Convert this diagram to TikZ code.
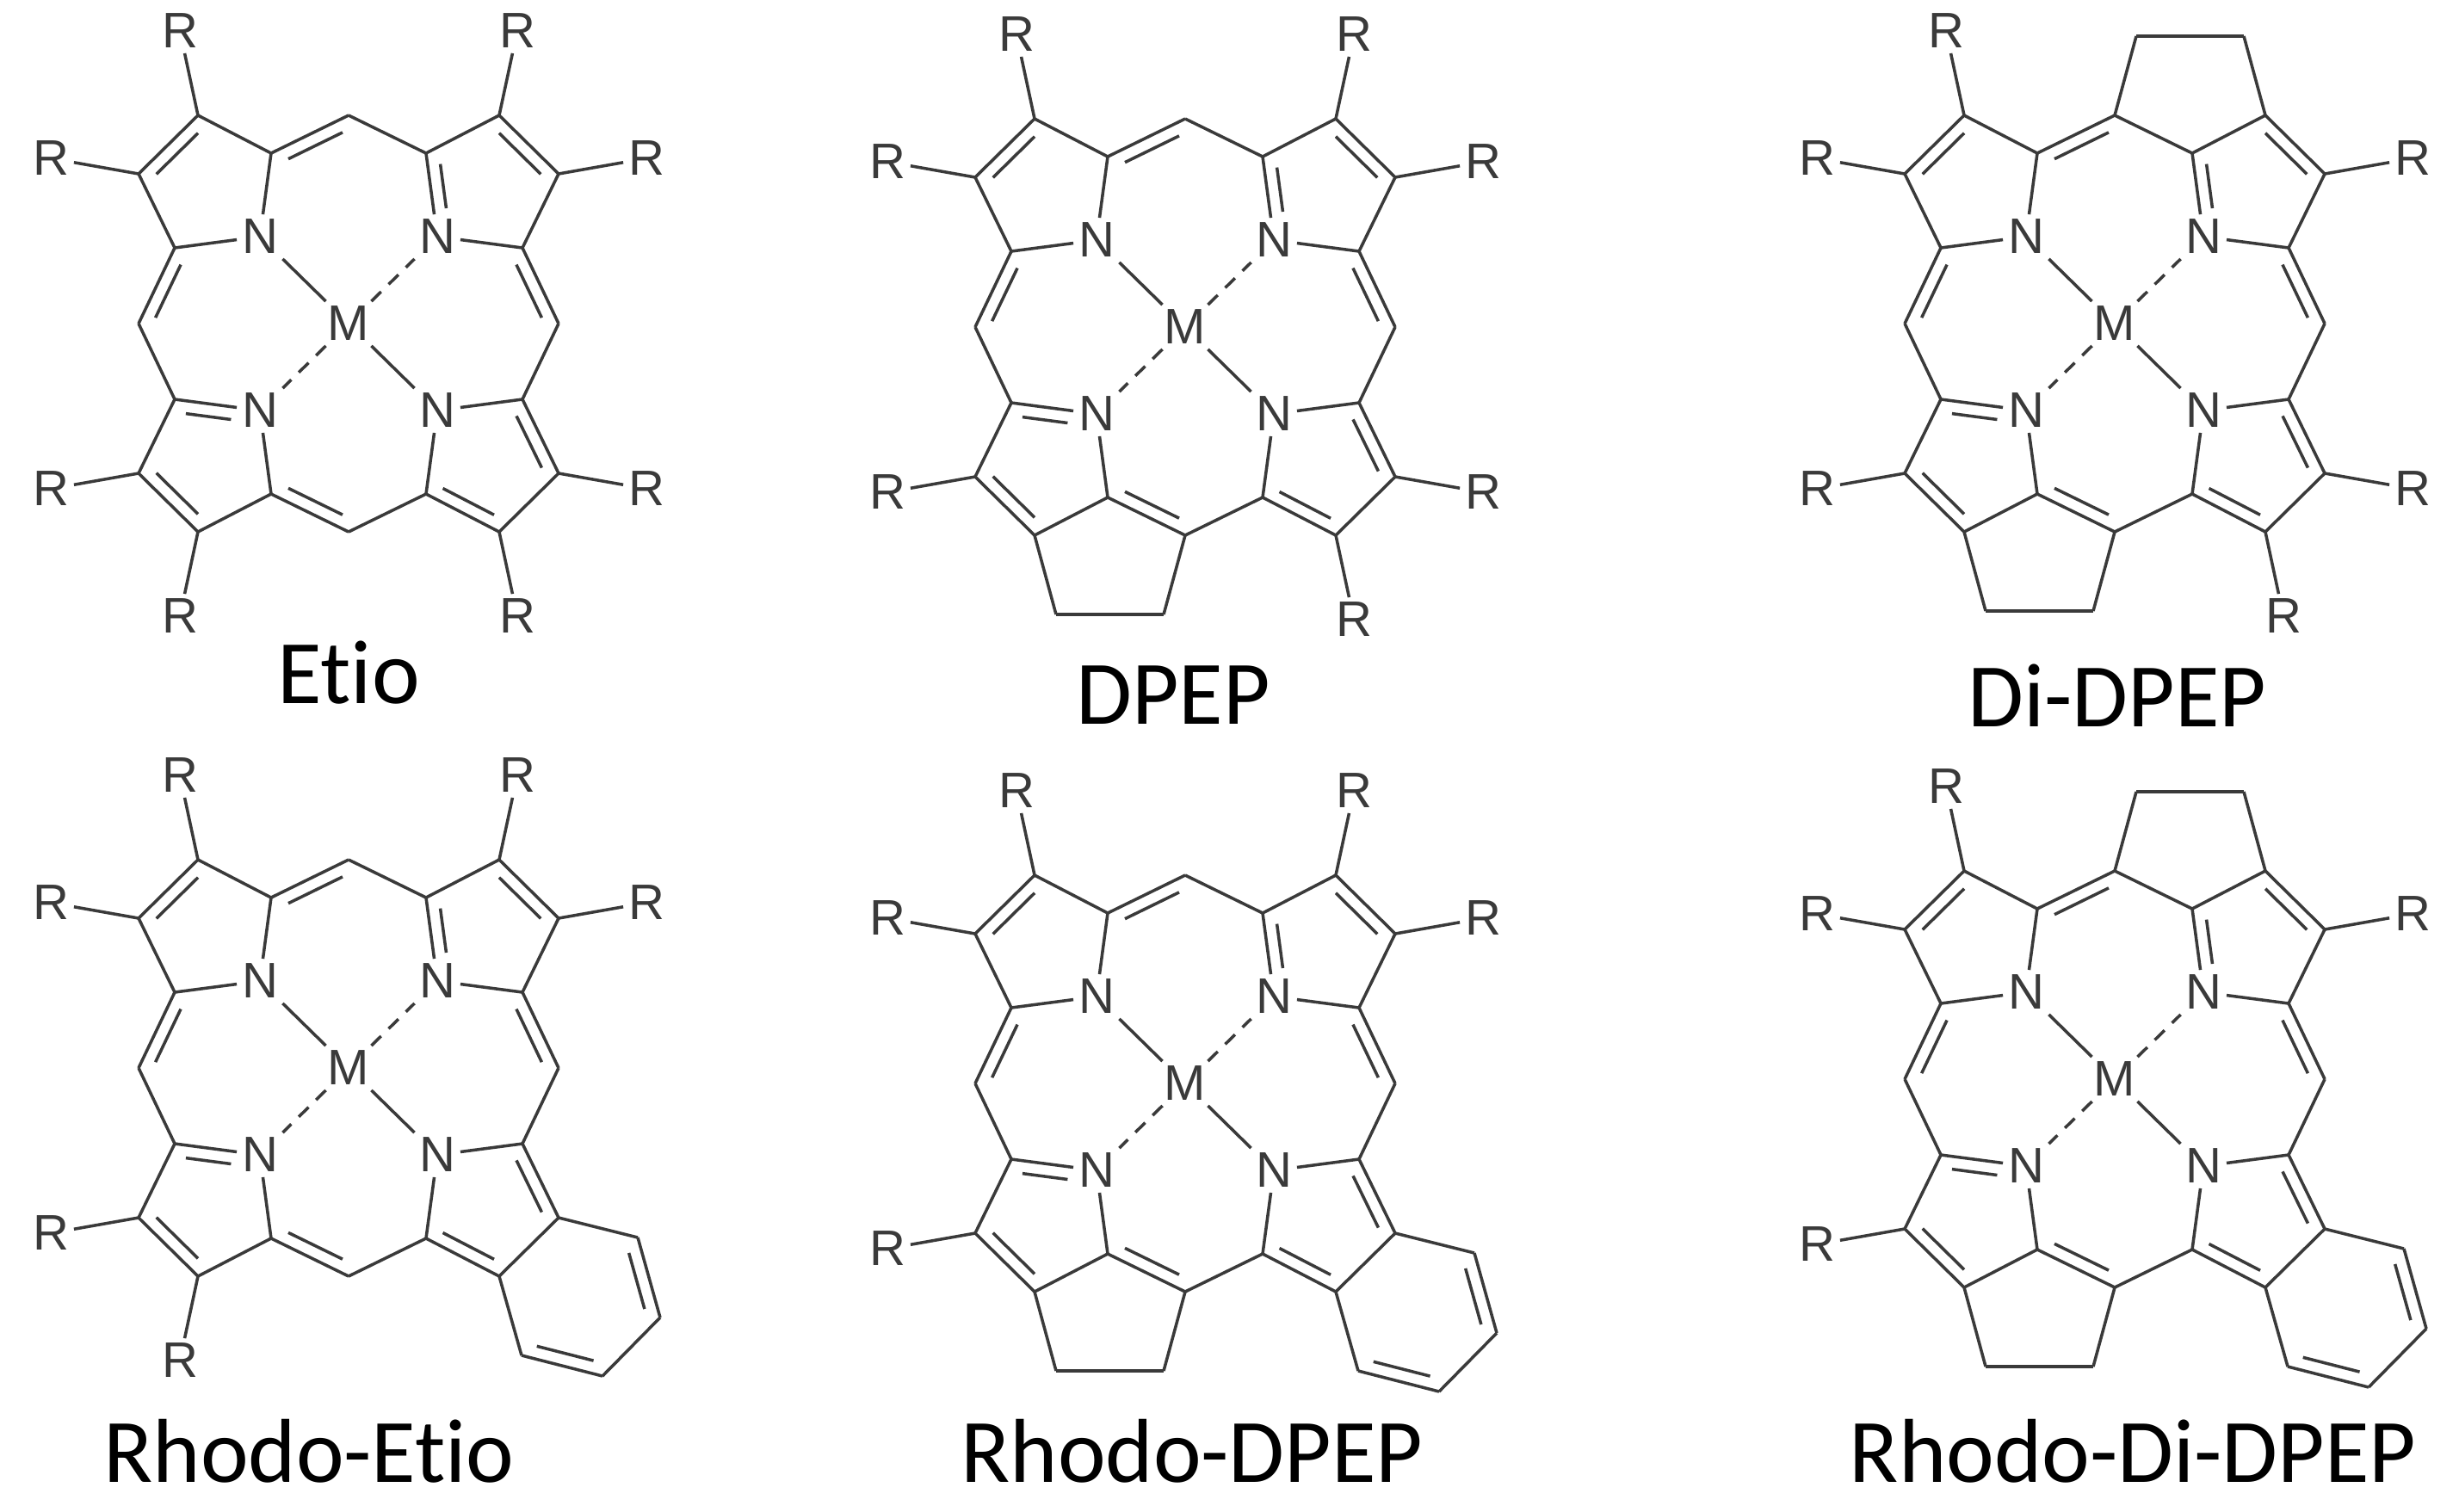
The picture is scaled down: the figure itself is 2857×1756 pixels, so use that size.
\documentclass[tikz,border=0pt]{standalone}
\usepackage{fontspec}
\setmainfont{Liberation Sans}
\newfontfamily\labfont[Ligatures=NoCommon]{Carlito}
\usetikzlibrary{calc}
\definecolor{ink}{HTML}{3a3a3a}
\tikzset{
  bond/.style={draw=ink,line width=1pt},
  atom/.style={inner sep=1.5pt,text=ink,font=\fontsize{16.5}{18}\selectfont},
  rgrp/.style={inner sep=1.5pt,text=ink,font=\fontsize{16.5}{18}\selectfont},
  coord/.style={dash pattern=on 4.5pt off 3.5pt},
  title/.style={text=black,font=\labfont\fontsize{30}{34}\selectfont}
}
\newcommand\sbond[2]{\draw[bond] (#1)--(#2);}
\newcommand\dbond[3]{%
  \draw[bond] (#1)--(#2);
  \coordinate (pp) at ($(#1)!(#3)!(#2)$);
  \coordinate (oo) at ($(pp)!4.2pt!(#3)$);
  \draw[bond] ($(#1)!0.15!(#2)+(oo)-(pp)$) -- ($(#2)!0.15!(#1)+(oo)-(pp)$);}
\newcommand\dbondn[3]{% #2 is an N node
  \draw[bond] (#1)--(#2);
  \coordinate (pp) at ($(#1)!(#3)!(#2)$);
  \coordinate (oo) at ($(pp)!4.2pt!(#3)$);
  \draw[bond] ($(#1)!0.15!(#2)+(oo)-(pp)$) -- ($(#2)!0.32!(#1)+(oo)-(pp)$);}
\newcommand\rsub[2]{\node[rgrp] (r#1) at (#2) {R}; \draw[bond] (#1)--(r#1);}
% #1 x, #2 y, #3 bottom ring, #4 top ring, #5 benzo
\newcommand\molecule[5]{%
\begin{scope}[shift={(#1,#2)}]
  \coordinate (mt) at (0,242); \coordinate (ml) at (-244,0);
  \coordinate (mr) at (244,0); \coordinate (mb) at (0,-242);
  \coordinate (a1) at (-90,198); \coordinate (b1) at (-175,242);
  \coordinate (b2) at (-244,174); \coordinate (a2) at (-202,88);
  \coordinate (c1) at (90,198); \coordinate (d1) at (175,242);
  \coordinate (d2) at (244,174); \coordinate (c2) at (202,88);
  \coordinate (e2) at (202,-88); \coordinate (f2) at (244,-174);
  \coordinate (f1) at (175,-242); \coordinate (e1) at (90,-198);
  \coordinate (g2) at (-202,-88); \coordinate (h2) at (-244,-174);
  \coordinate (h1) at (-175,-242); \coordinate (g1) at (-90,-198);
  \coordinate (ptl) at (-150,150); \coordinate (ptr) at (150,150);
  \coordinate (plr) at (150,-150); \coordinate (pll) at (-150,-150);
  \coordinate (cen) at (0,0);
  \node[atom] (M) at (0,0) {M};
  \node[atom] (n1) at (-103,101) {N};
  \node[atom] (n2) at (103,101) {N};
  \node[atom] (n3) at (103,-101) {N};
  \node[atom] (n4) at (-103,-101) {N};
  \draw[bond] (M)--(n1); \draw[bond,coord] (M)--(n2);
  \draw[bond] (M)--(n3); \draw[bond,coord] (M)--(n4);
  % TL pyrrole
  \sbond{n1}{a1} \sbond{a1}{b1} \dbond{b1}{b2}{ptl} \sbond{b2}{a2} \sbond{a2}{n1}
  \dbond{a1}{mt}{cen} \sbond{mt}{c1}
  % TR pyrrole
  \dbondn{c1}{n2}{ptr} \sbond{c1}{d1} \dbond{d1}{d2}{ptr} \sbond{d2}{c2} \sbond{c2}{n2}
  \dbond{c2}{mr}{cen} \sbond{mr}{e2}
  % LR pyrrole
  \sbond{n3}{e2} \dbond{e2}{f2}{plr} \sbond{f2}{f1} \dbond{f1}{e1}{plr} \sbond{e1}{n3}
  \sbond{e1}{mb} \dbond{mb}{g1}{cen}
  % LL pyrrole
  \sbond{g1}{n4} \sbond{g1}{h1} \dbond{h1}{h2}{pll} \sbond{h2}{g2} \dbondn{g2}{n4}{pll}
  \dbond{a2}{ml}{cen} \sbond{ml}{g2}
  % substituents
  \rsub{b1}{-196,340} \rsub{b2}{-346,192}
  \rsub{d2}{346,192}
  \rsub{h2}{-346,-192}
  \ifnum#4=0 \rsub{d1}{196,340} \fi
  \ifnum#3=0 \rsub{h1}{-196,-340} \fi
  \ifnum#5=0 \rsub{f1}{196,-340} \rsub{f2}{346,-192} \fi
  \ifnum#3=1
    \coordinate (q1) at (-150,-334); \coordinate (q2) at (-25,-334);
    \sbond{h1}{q1} \sbond{q1}{q2} \sbond{q2}{mb}
  \fi
  \ifnum#4=1
    \coordinate (p1) at (25,334); \coordinate (p2) at (150,334);
    \sbond{mt}{p1} \sbond{p1}{p2} \sbond{p2}{d1}
  \fi
  \ifnum#5=1
    \coordinate (hc) at (268,-266);
    \coordinate (k1) at (336,-197); \coordinate (k2) at (362,-290);
    \coordinate (k3) at (295,-358); \coordinate (k4) at (201,-334);
    \sbond{f2}{k1} \dbond{k1}{k2}{hc} \sbond{k2}{k3} \dbond{k3}{k4}{hc} \sbond{k4}{f1}
  \fi
\end{scope}}
\begin{document}
\begin{tikzpicture}[x=0.01cm,y=0.01cm]
  \path[fill=white] (0,0) rectangle (2857,-1756);
  \useasboundingbox (0,0) rectangle (2857,-1756);
  \molecule{405}{-376}{0}{0}{0}
  \molecule{1377}{-380}{1}{0}{0}
  \molecule{2457}{-376}{1}{1}{0}
  \molecule{405}{-1241}{0}{0}{1}
  \molecule{1377}{-1259}{1}{0}{1}
  \molecule{2457}{-1254}{1}{1}{1}
  \node[title] (t1) at (405,-782) {Etio};
  \node[title] (t2) at (1363,-808) {DPEP};
  \node[title] (t3) at (2460,-808) {Di-DPEP};
  \node[title] (t4) at (359,-1686) {Rhodo-Etio};
  \node[title] (t5) at (1385,-1686) {Rhodo-DPEP};
  \node[title] (t6) at (2478,-1686) {Rhodo-Di-DPEP};
\end{tikzpicture}
\end{document}
